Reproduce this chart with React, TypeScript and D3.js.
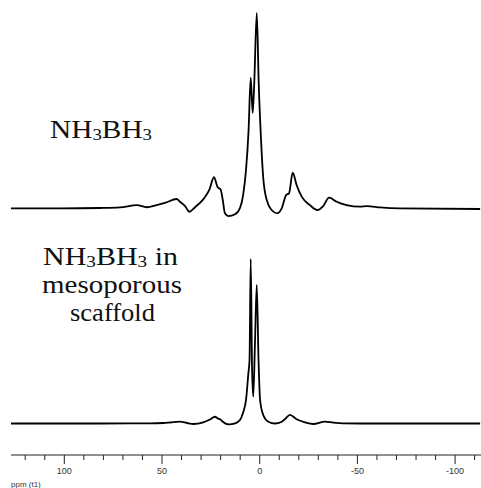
import React from "react";
import * as d3 from "d3";

// chemical shift (ppm) and intensity (tallest peak = 100)
const pureShift = [127.3, 102.2, 81.7, 71.5, 62.9, 57.8, 52.7, 48.5, 42.5, 40.8, 38.2, 36.0, 33.1, 28.9, 25.8, 23.4, 21.5, 20.0, 18.9, 17.8, 16.1, 12.6, 10.1, 8.5, 7.0, 5.7, 4.6, 3.6, 2.8, 1.5, 0.5, -0.7, -1.8, -3.6, -6.1, -9.0, -11.3, -13.5, -15.0, -16.9, -18.9, -21.5, -25.7, -29.5, -32.5, -35.5, -39.4, -44.5, -51.3, -54.9, -61.6, -71.8, -112.8];
const pureIntensity = [0.3, 0.3, 0.5, 0.8, 2.0, 0.9, 2.0, 3.1, 5.1, 3.7, 1.5, -1.4, 0.9, 4.9, 9.7, 16.2, 11.1, 10.0, 4.6, -2.2, -3.6, -2.7, 0.5, 7, 20, 40, 67, 49, 64, 100, 64, 35, 16, 4.6, -0.5, -2.2, 0.4, 7.1, 8.0, 18.5, 12.2, 6.3, 2.0, -0.5, 1.5, 5.8, 3.7, 2.0, 1.2, 1.5, 0.8, 0.3, 0];

const scaffoldShift = [127.3, 81.7, 66.4, 56.1, 49.3, 45.9, 40.8, 37.2, 34.0, 28.9, 25.4, 22.9, 21.3, 20.3, 18.9, 17.2, 15.7, 12.6, 10.1, 8.4, 7.0, 5.8, 5.2, 4.6, 3.9, 3.3, 2.4, 1.5, 0.6, -0.2, -1.8, -4.4, -7.8, -11.3, -12.9, -15.5, -18.9, -23.2, -27.4, -33.4, -37.7, -42.8, -51.3, -112.8];
const scaffoldIntensity = [0, 0, 0.1, 0.1, 0.3, 0.6, 1.1, 0.3, -0.3, 0.7, 2.4, 4.1, 3.0, 2.6, 1.1, -0.2, -0.5, 0.1, 2.1, 7, 14.3, 30.5, 38.6, 100, 32.5, 16.3, 50, 84.2, 38.6, 14.3, 5.2, 1.1, 0, 1.1, 2.6, 5.2, 2.6, 0.7, -0.3, 1.1, 0.5, 0.1, 0, 0];

const majorTicks = [100, 50, 0, -50, -100];
const minorTicks = [120, 110, 90, 80, 70, 60, 40, 30, 20, 10, -10, -20, -30, -40, -60, -70, -80, -90, -110];

const serif = "'Liberation Serif', 'Times New Roman', serif";
const sans = "'Liberation Sans', Arial, sans-serif";

// one line of the sample labels, stretched a little to match the wider serif face
function Label({ x, y, w, children }: { x: number; y: number; w: number; children: React.ReactNode }) {
  return (
    <text x={x} y={y} textLength={w} lengthAdjust="spacingAndGlyphs" fontFamily={serif} fontSize={25} fill="#111">
      {children}
    </text>
  );
}

function Formula({ suffix }: { suffix?: string }) {
  return (
    <>
      NH<tspan fontSize={16} dy={2}>3</tspan>
      <tspan dy={-2}>BH</tspan>
      <tspan fontSize={16} dy={2}>3</tspan>
      {suffix ? <tspan dy={-2}>{suffix}</tspan> : null}
    </>
  );
}

export default function App() {
  const width = 481;
  const height = 488;
  const axisY = 455;

  const x = d3.scaleLinear().domain([100, -100]).range([64.3, 455.1]);
  const yTop = d3.scaleLinear().domain([0, 100]).range([209, 13]);
  const yBottom = d3.scaleLinear().domain([0, 100]).range([423.5, 259]);

  const lineTop = d3
    .line<number>()
    .x((d, i) => x(pureShift[i]))
    .y((d) => yTop(d))
    .curve(d3.curveMonotoneX);

  const lineBottom = d3
    .line<number>()
    .x((d, i) => x(scaffoldShift[i]))
    .y((d) => yBottom(d))
    .curve(d3.curveMonotoneX);

  return (
    <svg
      width={width}
      height={height}
      style={{ position: "absolute", left: 0, top: 0, background: "#fff" }}
    >
      <path d={lineTop(pureIntensity) || ""} fill="none" stroke="#000" strokeWidth={1.8} strokeLinejoin="round" />
      <path d={lineBottom(scaffoldIntensity) || ""} fill="none" stroke="#000" strokeWidth={1.8} strokeLinejoin="round" />

      <Label x={50} y={138} w={102}>
        <Formula />
      </Label>
      <Label x={43} y={265} w={135}>
        <Formula suffix=" in" />
      </Label>
      <Label x={42} y={293} w={140}>mesoporous</Label>
      <Label x={70} y={321} w={85}>scaffold</Label>

      {/* ppm axis */}
      <line x1={11} x2={481} y1={axisY} y2={axisY} stroke="#222" strokeWidth={1} />
      {minorTicks.map((t) => (
        <line key={"m" + t} x1={x(t)} x2={x(t)} y1={axisY} y2={axisY + 5} stroke="#222" strokeWidth={1} />
      ))}
      {majorTicks.map((t) => (
        <g key={"M" + t}>
          <line x1={x(t)} x2={x(t)} y1={axisY} y2={axisY + 9} stroke="#222" strokeWidth={1} />
          <text x={x(t)} y={474} fontFamily={sans} fontSize={9} textAnchor="middle" fill="#333">
            {t}
          </text>
        </g>
      ))}
      <text x={11} y={487} fontFamily={sans} fontSize={8} fill="#333">
        ppm (t1)
      </text>
    </svg>
  );
}
